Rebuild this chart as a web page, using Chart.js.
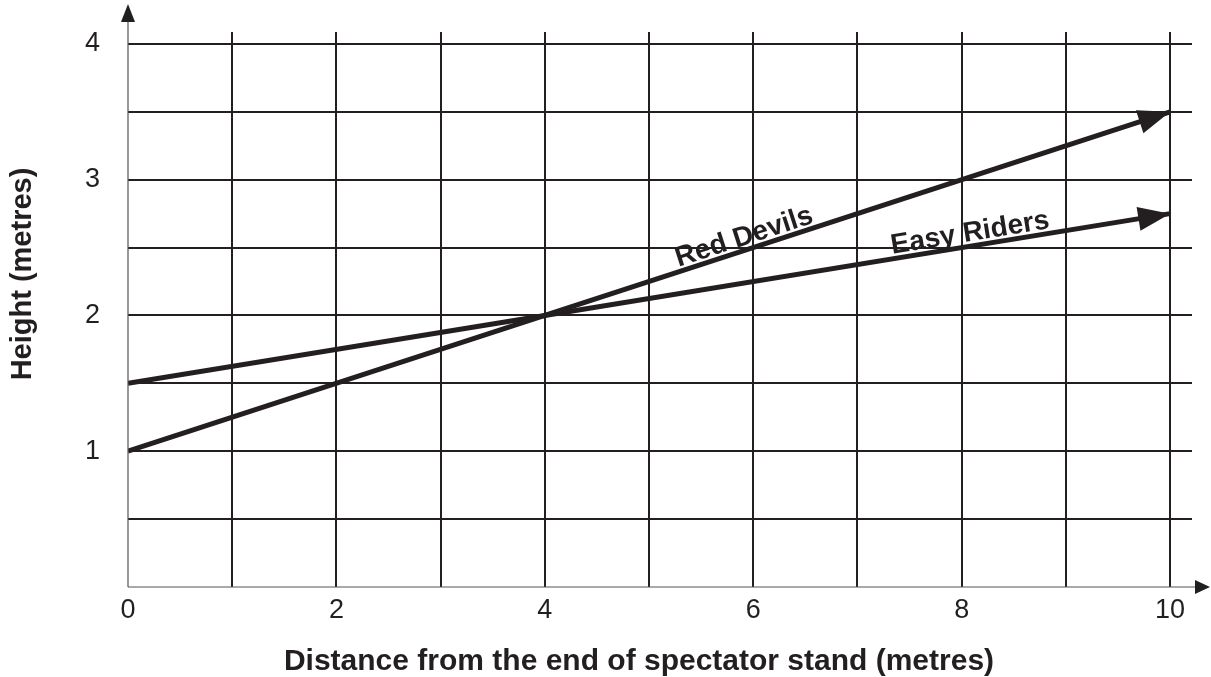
<!DOCTYPE html>
<html>
<head>
<meta charset="utf-8">
<script src="https://cdn.jsdelivr.net/npm/chart.js@4/dist/chart.umd.min.js"></script>
<style>
  html, body { margin: 0; padding: 0; background: #fff; }
  #wrap { width: 1211px; height: 677px; }
</style>
</head>
<body>
<div id="wrap"><canvas id="c"></canvas></div>
<script>
// --- data ---
const distances = [0, 4, 10];
const redDevils = [1, 2, 3.5];
const easyRiders = [1.5, 2, 2.75];
const xTickValues = [0, 1, 2, 3, 4, 5, 6, 7, 8, 9, 10];
const yTickValues = [0, 0.5, 1, 1.5, 2, 2.5, 3, 3.5, 4];
const lineLabels = ['Red Devils', 'Easy Riders'];
const labelAt = [5.95, 8.1]; // x position of each line's label
const xTitle = 'Distance from the end of spectator stand (metres)';
const yTitle = 'Height (metres)';

const INK = '#231f20';
const FONT = '"Liberation Sans", Arial, sans-serif';

function pts(xs, ys) {
    return xs.map((x, i) => ({ x: x, y: ys[i] }));
}

function arrowHead(ctx, tx, ty, angle, len, half) {
    ctx.save();
    ctx.translate(tx, ty);
    ctx.rotate(angle);
    ctx.beginPath();
    ctx.moveTo(0, 0);
    ctx.lineTo(-len, -half);
    ctx.lineTo(-len, half);
    ctx.closePath();
    ctx.fillStyle = INK;
    ctx.fill();
    ctx.restore();
}

// no extra label padding, so the plot area sits where the picture has it
function noPad(s) {
    s.paddingTop = 0;
    s.paddingBottom = 0;
    s.paddingLeft = 0;
    s.paddingRight = 0;
}

// axes with arrows, arrow tips on the lines, line labels and axis titles
const decor = {
    id: 'decor',
    afterDatasetsDraw(chart) {
        const ctx = chart.ctx;
        const xs = chart.scales.x, ys = chart.scales.y;
        const ox = xs.getPixelForValue(0), oy = ys.getPixelForValue(0);

        // axes
        ctx.save();
        ctx.strokeStyle = '#555';
        ctx.lineWidth = 1.2;
        ctx.beginPath();
        ctx.moveTo(ox, oy);
        ctx.lineTo(ox, 16);
        ctx.moveTo(ox, oy);
        ctx.lineTo(1198, oy);
        ctx.stroke();
        ctx.restore();
        arrowHead(ctx, ox, 4, -Math.PI / 2, 18, 7);
        arrowHead(ctx, 1210, oy, 0, 15, 7);

        [redDevils, easyRiders].forEach(function (ys_, k) {
            const n = distances.length;
            const x1 = xs.getPixelForValue(distances[n - 2]), y1 = ys.getPixelForValue(ys_[n - 2]);
            const x2 = xs.getPixelForValue(distances[n - 1]), y2 = ys.getPixelForValue(ys_[n - 1]);
            const ang = Math.atan2(y2 - y1, x2 - x1);
            // arrow tip
            arrowHead(ctx, x2, y2, ang, 32, 12);
            // label along the line
            const vx = labelAt[k];
            const vy = ys_[n - 2] + (ys_[n - 1] - ys_[n - 2]) * (vx - distances[n - 2]) / (distances[n - 1] - distances[n - 2]);
            ctx.save();
            ctx.translate(xs.getPixelForValue(vx), ys.getPixelForValue(vy));
            ctx.rotate(ang);
            ctx.font = 'bold 28px ' + FONT;
            ctx.fillStyle = INK;
            ctx.textAlign = 'center';
            ctx.textBaseline = 'alphabetic';
            ctx.fillText(lineLabels[k], 0, -5);
            ctx.restore();
        });

        // axis titles
        ctx.save();
        ctx.fillStyle = INK;
        ctx.textAlign = 'center';
        ctx.textBaseline = 'middle';
        ctx.font = 'bold 30px ' + FONT;
        ctx.fillText(xTitle, 639, 662);
        ctx.translate(23, 274);
        ctx.rotate(-Math.PI / 2);
        ctx.font = 'bold 29px ' + FONT;
        ctx.fillText(yTitle, 0, 0);
        ctx.restore();
    }
};

new Chart(document.getElementById('c'), {
    type: 'scatter',
    data: {
        datasets: [
            { label: lineLabels[0], data: pts(distances, redDevils) },
            { label: lineLabels[1], data: pts(distances, easyRiders) }
        ].map(function (d) {
            return Object.assign(d, {
                showLine: true,
                borderColor: INK,
                borderWidth: 5,
                pointRadius: 0,
                fill: false
            });
        })
    },
    options: {
        responsive: true,
        maintainAspectRatio: false,
        animation: false,
        layout: { padding: { top: 32, right: 19, left: 0, bottom: 0 } },
        plugins: { legend: { display: false }, tooltip: { enabled: false } },
        scales: {
            x: {
                type: 'linear',
                min: 0,
                max: 10.21,
                afterBuildTicks: function (s) { s.ticks = xTickValues.map(v => ({ value: v })); },
                afterFit: function (s) { s.height = 90; noPad(s); },
                grid: {
                    color: ctx => ctx.tick && ctx.tick.value === 0 ? 'rgba(0,0,0,0)' : INK,
                    lineWidth: 2,
                    drawTicks: false
                },
                border: { display: false },
                ticks: {
                    color: INK,
                    padding: 7,
                    maxRotation: 0,
                    autoSkip: false,
                    font: { family: FONT, size: 27 },
                    callback: v => (v % 2 === 0 ? String(v) : '')
                },
                title: { display: false }
            },
            y: {
                type: 'linear',
                min: 0,
                max: 4.088,
                afterBuildTicks: function (s) { s.ticks = yTickValues.map(v => ({ value: v })); },
                afterFit: function (s) { s.width = 128; noPad(s); },
                grid: {
                    color: ctx => ctx.tick && ctx.tick.value === 0 ? 'rgba(0,0,0,0)' : INK,
                    lineWidth: 2,
                    drawTicks: false
                },
                border: { display: false },
                ticks: {
                    color: INK,
                    padding: 28,
                    autoSkip: false,
                    font: { family: FONT, size: 27 },
                    callback: v => (v >= 1 && Number.isInteger(v) ? String(v) : '')
                },
                title: { display: false }
            }
        }
    },
    plugins: [decor]
});
</script>
</body>
</html>
